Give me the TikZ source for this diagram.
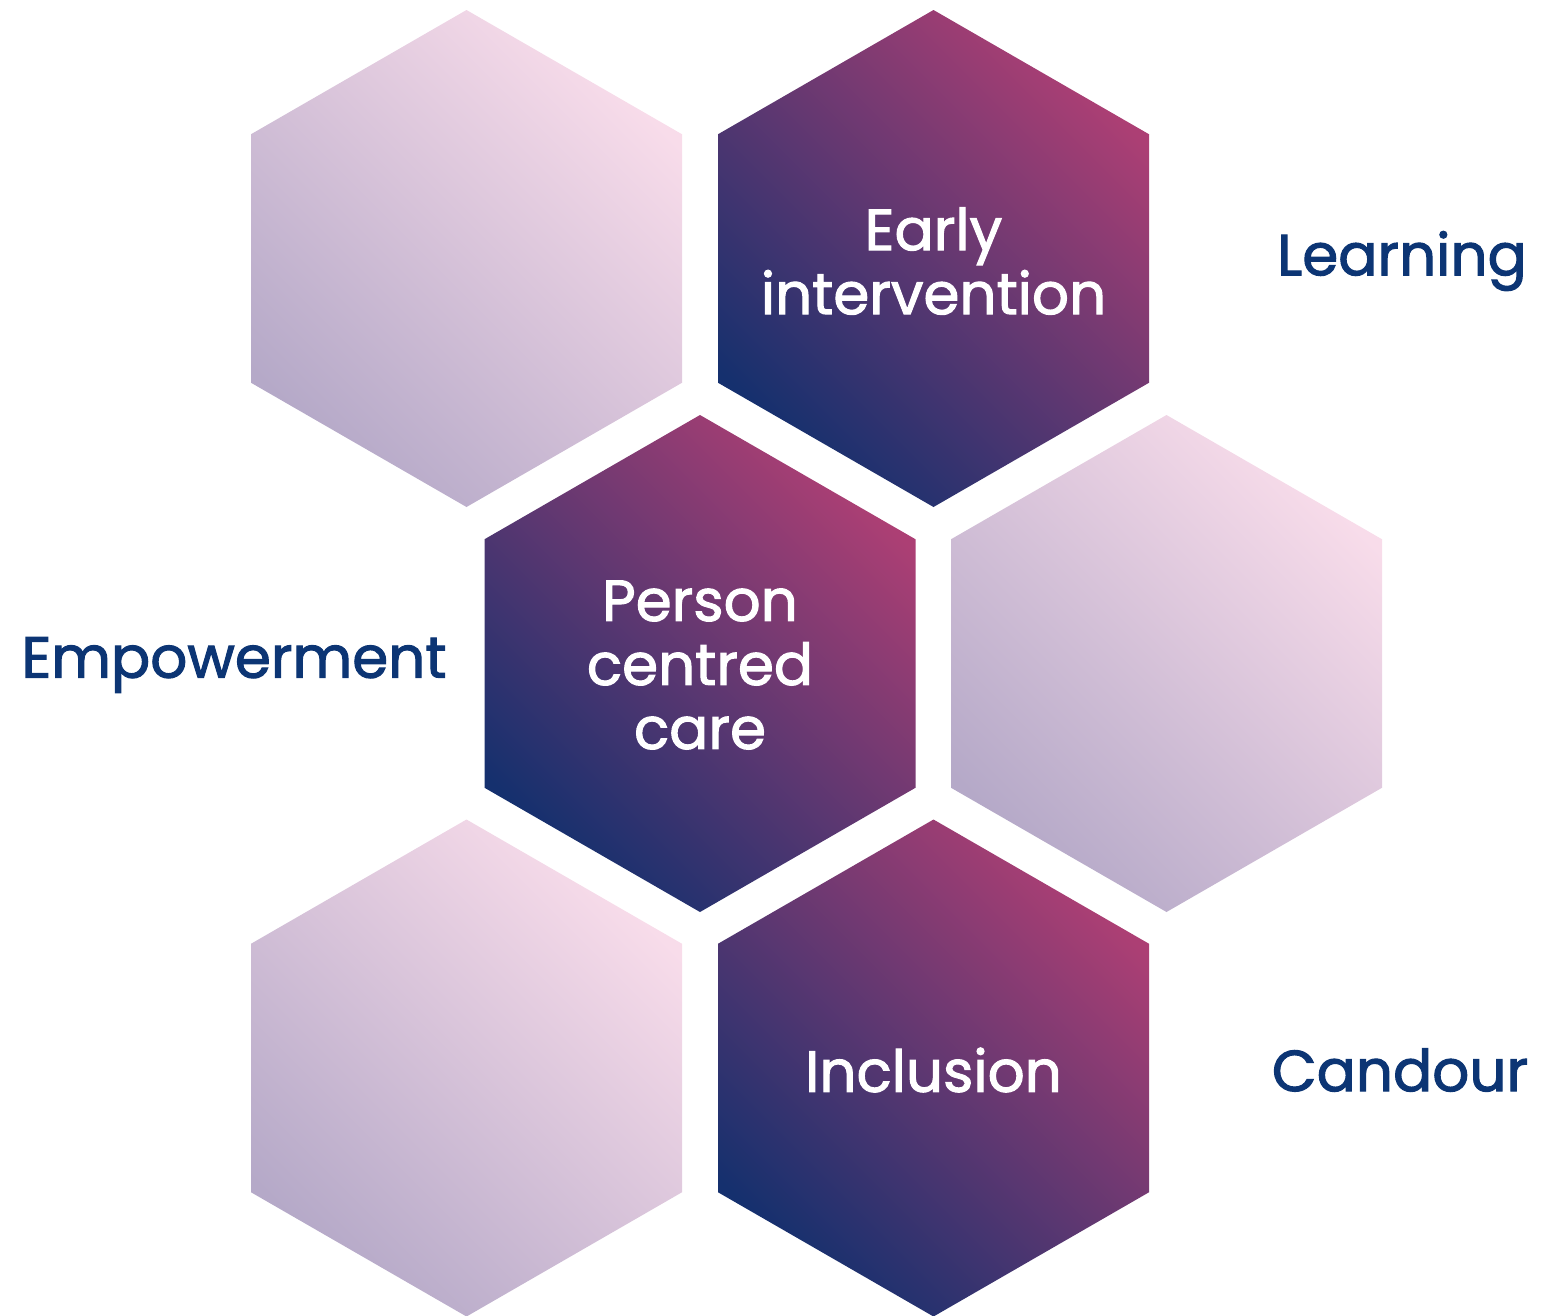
\documentclass[tikz,border=0pt]{standalone}
\usepackage{fontspec}
\setmainfont{Poppins}[FakeBold=1.8]
\definecolor{hdark}{HTML}{15306E}
\definecolor{hmag}{HTML}{AC3F74}
\definecolor{llav}{HTML}{B5A9C8}
\definecolor{lpink}{HTML}{F8DCEA}
\definecolor{tblue}{HTML}{0C3574}
\tikzset{
  hexdark/.style={left color=hdark, right color=hmag, shading angle=135},
  hexlight/.style={left color=llav, right color=lpink, shading angle=135},
  intext/.style={text=white, font=\fontsize{58}{64}\selectfont, align=center, inner sep=0pt},
  outtext/.style={text=tblue, font=\fontsize{58}{64}\selectfont, inner sep=0pt},
}
\newcommand\myhex[3]{\shade[#3] ({#1},{#2-248.5}) -- ({#1+215.5},{#2-124.25}) -- ({#1+215.5},{#2+124.25}) -- ({#1},{#2+248.5}) -- ({#1-215.5},{#2+124.25}) -- ({#1-215.5},{#2-124.25}) -- cycle;}
\begin{document}
\begin{tikzpicture}[x=1pt,y=-1pt]
\useasboundingbox (0,0) rectangle (1552,1315);
\myhex{466.5}{258.5}{hexlight}
\myhex{933.5}{258.5}{hexdark}
\myhex{700}{663.5}{hexdark}
\myhex{1166.5}{663.5}{hexlight}
\myhex{466.5}{1068}{hexlight}
\myhex{933.5}{1068}{hexdark}
\node[intext] (early) at (933.5,261) {Early\\intervention};
\node[intext] (person) at (700,665) {Person\\centred\\care};
\node[intext] (inclusion) at (933.5,1070) {Inclusion};
\node[outtext] (learning) at (1402,261) {Learning};
\node[outtext] (empower) at (234,665) {Empowerment};
\node[outtext] (candour) at (1400,1070) {Candour};
\end{tikzpicture}
\end{document}
